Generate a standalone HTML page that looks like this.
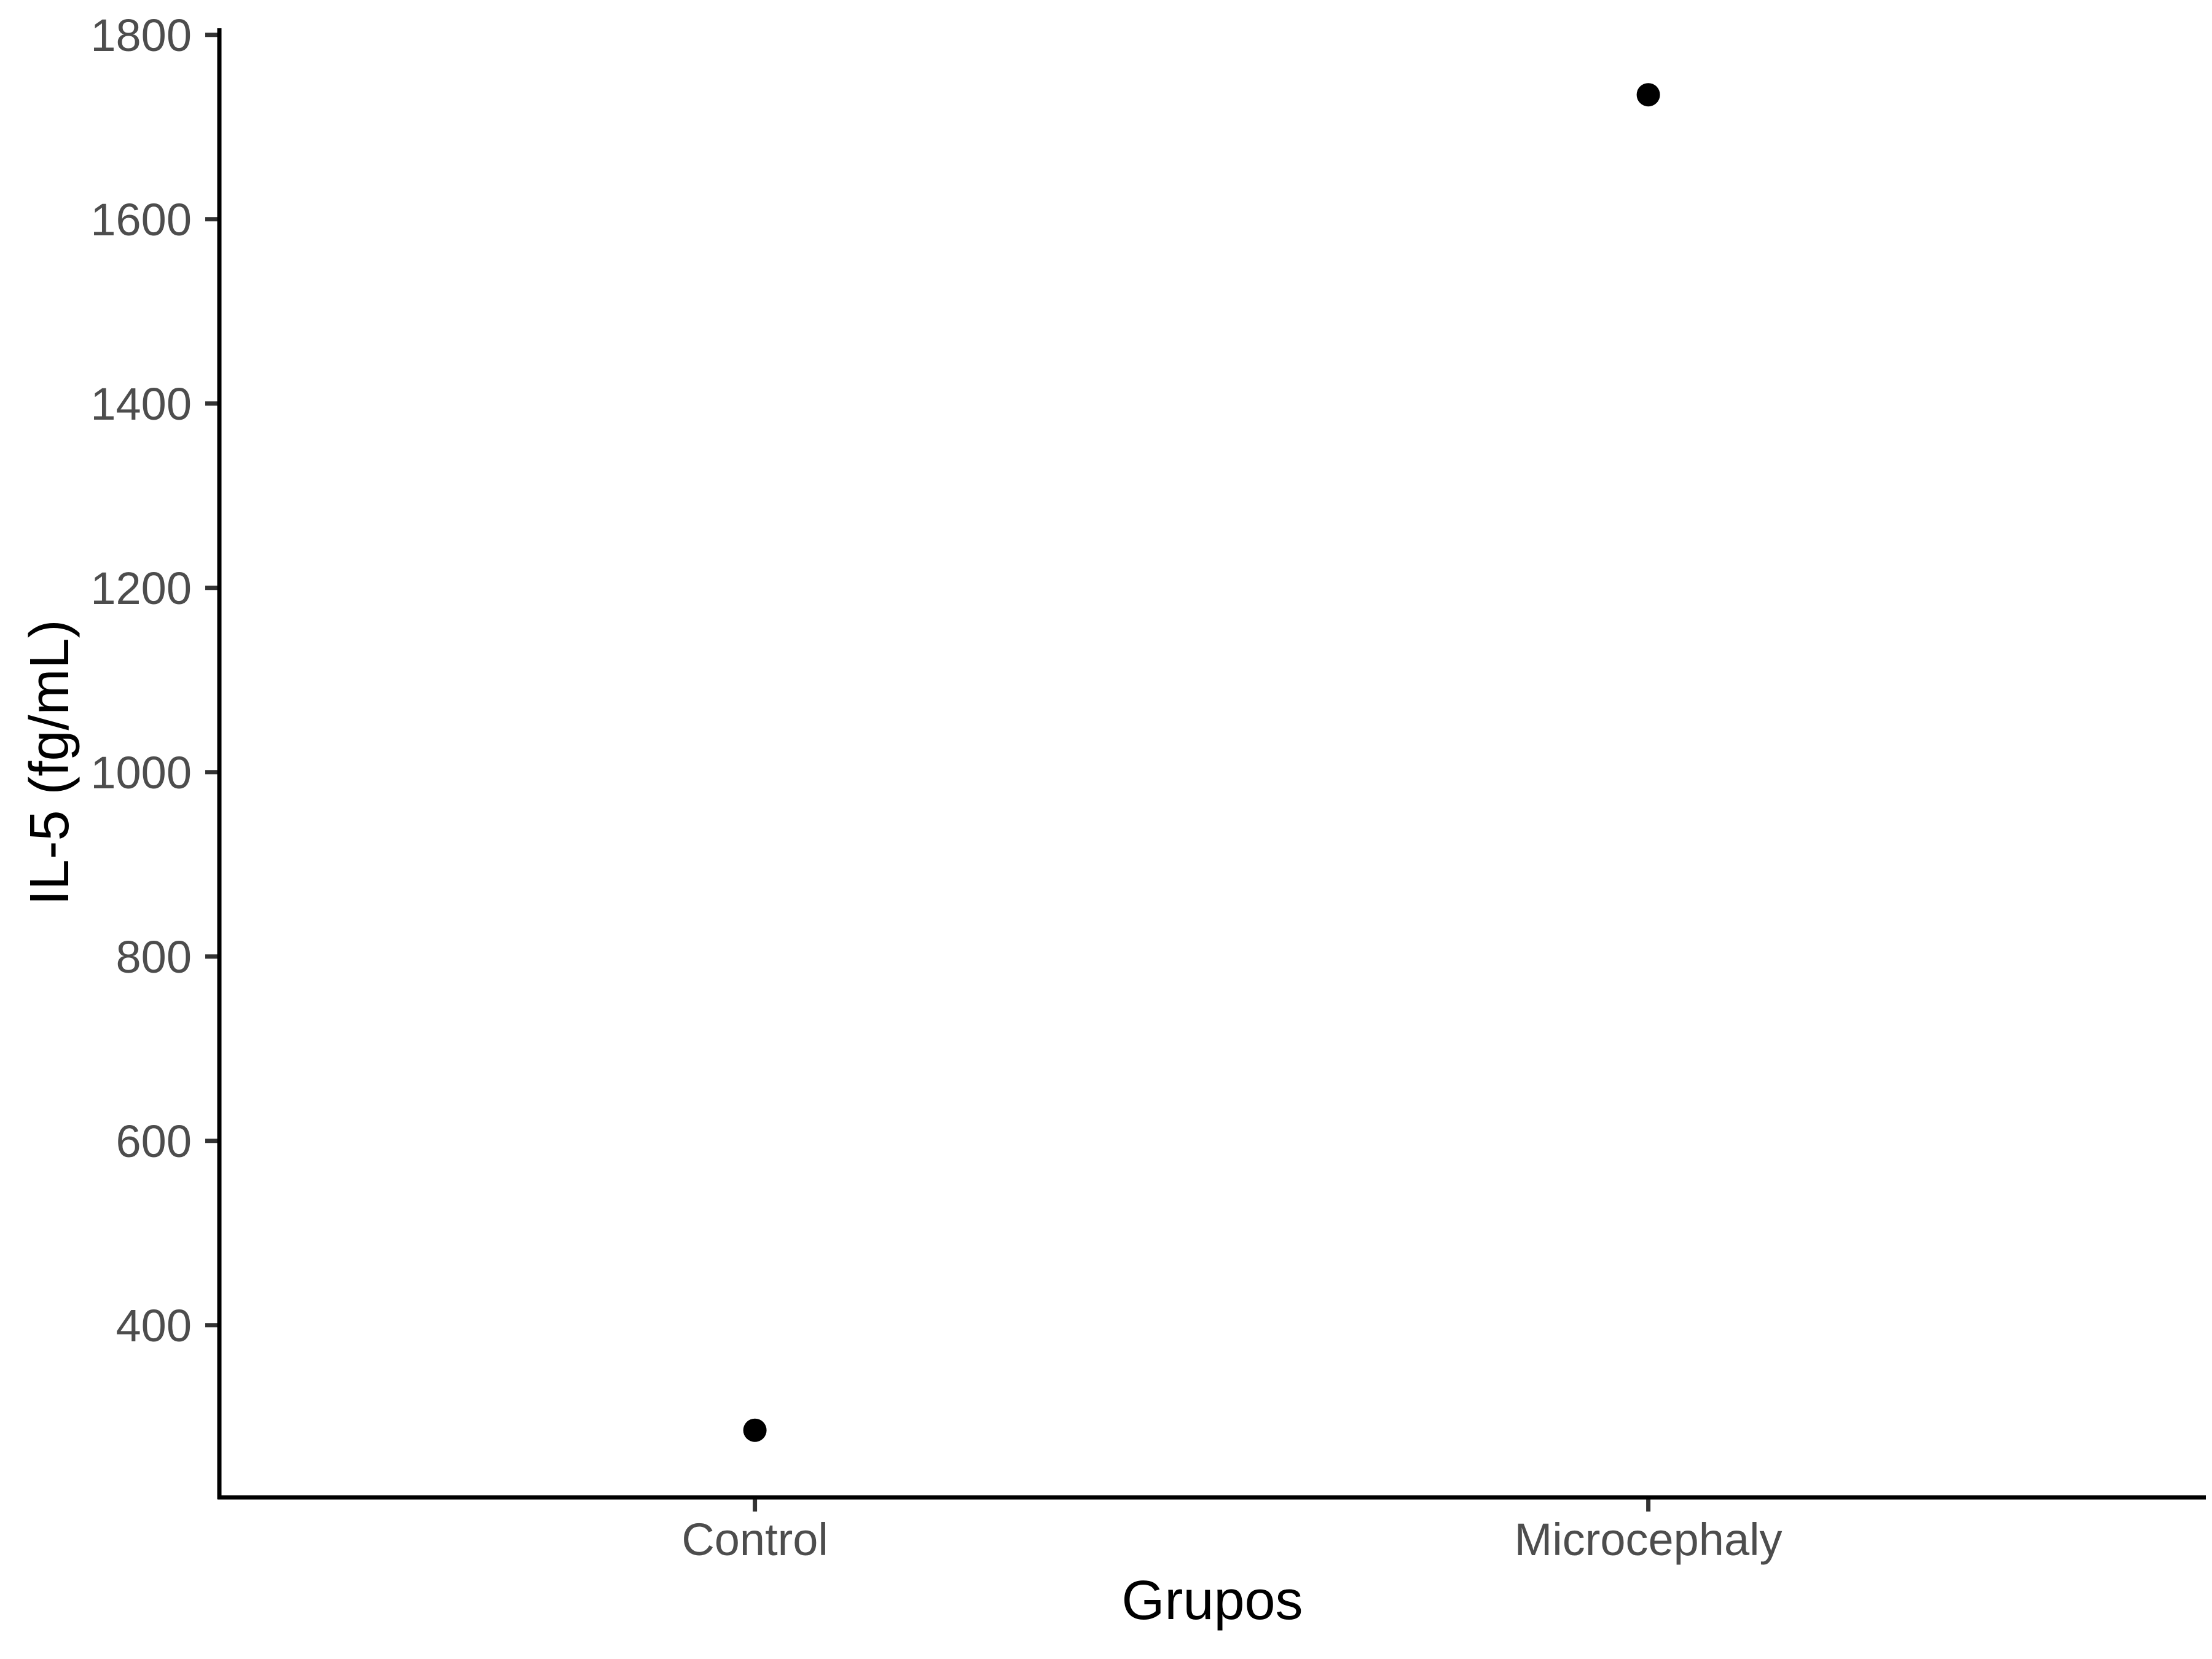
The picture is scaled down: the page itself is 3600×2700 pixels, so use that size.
<!DOCTYPE html>
<html><head><meta charset="utf-8"><style>
html,body{margin:0;padding:0;background:#fff;}
svg{display:block;font-family:"Liberation Sans",Arial,sans-serif;}
</style></head><body>
<svg id="chart" width="3600" height="2700" viewBox="0 0 3600 2700" xmlns="http://www.w3.org/2000/svg">
<rect width="3600" height="2700" fill="#fff"/>
<g id="yticks"></g>
<g id="xticks"></g>
<line x1="357" y1="46" x2="357" y2="2440" stroke="#000" stroke-width="7"/>
<line x1="354" y1="2437" x2="3590" y2="2437" stroke="#000" stroke-width="7"/>
<g id="points"></g>
<text x="1973" y="2635" font-size="90" text-anchor="middle" fill="#000">Grupos</text>
<text transform="translate(111,1241) rotate(-90)" x="0" y="0" font-size="90" text-anchor="middle" fill="#000">IL-5 (fg/mL)</text>
</svg>
<script>
const categories = ["Control", "Microcephaly"];
const values = [286, 1735];
const yTicks = [400, 600, 800, 1000, 1200, 1400, 1600, 1800];

const NS = "http://www.w3.org/2000/svg";
function yScale(v){ return 56.7 + (1800 - v) * 1.5; }
function xScale(i){ return 1228.6 + i * 1454; }

const yg = document.getElementById('yticks');
yTicks.forEach(t => {
  const y = yScale(t);
  const l = document.createElementNS(NS, 'line');
  l.setAttribute('x1', 334); l.setAttribute('x2', 357);
  l.setAttribute('y1', y); l.setAttribute('y2', y);
  l.setAttribute('stroke', '#333'); l.setAttribute('stroke-width', 7);
  
  
  yg.appendChild(l);
  const tx = document.createElementNS(NS, 'text');
  tx.setAttribute('x', 312); tx.setAttribute('y', y + 26.5);
  tx.setAttribute('font-size', 74); tx.setAttribute('text-anchor', 'end');
  tx.setAttribute('fill', '#4d4d4d');
  
  
  tx.textContent = t;
  yg.appendChild(tx);
});

const xg = document.getElementById('xticks');
categories.forEach((c, i) => {
  const x = xScale(i);
  const l = document.createElementNS(NS, 'line');
  l.setAttribute('x1', x); l.setAttribute('x2', x);
  l.setAttribute('y1', 2437); l.setAttribute('y2', 2460);
  l.setAttribute('stroke', '#333'); l.setAttribute('stroke-width', 7);
  
  
  xg.appendChild(l);
  const tx = document.createElementNS(NS, 'text');
  tx.setAttribute('x', x); tx.setAttribute('y', 2531);
  tx.setAttribute('font-size', 74); tx.setAttribute('text-anchor', 'middle');
  tx.setAttribute('fill', '#4d4d4d');
  
  
  tx.textContent = c;
  xg.appendChild(tx);
});

const pg = document.getElementById('points');
values.forEach((v, i) => {
  const c = document.createElementNS(NS, 'circle');
  c.setAttribute('cx', xScale(i)); c.setAttribute('cy', yScale(v));
  c.setAttribute('r', 19); c.setAttribute('fill', '#000');
  
  
  pg.appendChild(c);
});
</script>
</body></html>
